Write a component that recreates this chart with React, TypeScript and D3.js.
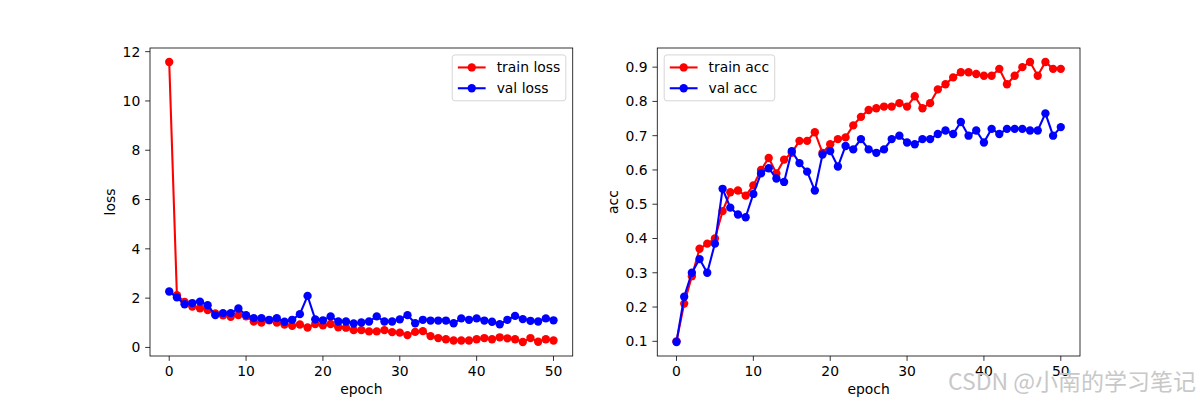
import React from 'react';
import * as d3 from 'd3';

// values
const epochs: number[] = d3.range(0, 51);

const trainLoss: number[] = [
  11.58, 2.12, 1.85, 1.66, 1.59, 1.52, 1.38, 1.3, 1.24, 1.31,
  1.26, 1.05, 1.01, 1.1, 1.01, 0.93, 0.88, 0.93, 0.81, 0.95,
  0.9, 0.95, 0.82, 0.8, 0.7, 0.7, 0.65, 0.65, 0.7, 0.62,
  0.6, 0.5, 0.63, 0.66, 0.46, 0.38, 0.33, 0.28, 0.28, 0.28,
  0.33, 0.38, 0.33, 0.41, 0.37, 0.33, 0.22, 0.38, 0.23, 0.33,
  0.28,
];
const valLoss: number[] = [
  2.27, 2.03, 1.75, 1.8, 1.86, 1.71, 1.31, 1.39, 1.39, 1.58,
  1.31, 1.19, 1.19, 1.12, 1.19, 1.04, 1.12, 1.35, 2.09, 1.14,
  1.1, 1.26, 1.05, 1.05, 0.97, 1.01, 1.05, 1.26, 1.05, 1.05,
  1.14, 1.31, 0.98, 1.12, 1.09, 1.09, 1.09, 0.98, 1.18, 1.12,
  1.18, 1.09, 1.04, 0.94, 1.12, 1.28, 1.15, 1.08, 1.05, 1.18,
  1.1,
];
const trainAcc: number[] = [
  0.1, 0.21, 0.29, 0.37, 0.385, 0.4, 0.48, 0.535, 0.54, 0.525,
  0.555, 0.6, 0.635, 0.59, 0.63, 0.65, 0.685, 0.685, 0.71, 0.65,
  0.675, 0.69, 0.695, 0.73, 0.755, 0.775, 0.78, 0.785, 0.785, 0.795,
  0.785, 0.815, 0.78, 0.795, 0.835, 0.85, 0.87, 0.885, 0.885, 0.88,
  0.875, 0.875, 0.895, 0.85, 0.875, 0.9, 0.915, 0.875, 0.915, 0.895,
  0.895,
];
const valAcc: number[] = [
  0.098, 0.23, 0.3, 0.34, 0.3, 0.385, 0.545, 0.49, 0.47, 0.462,
  0.53, 0.59, 0.605, 0.575, 0.565, 0.655, 0.62, 0.595, 0.54, 0.645,
  0.655, 0.61, 0.67, 0.66, 0.69, 0.66, 0.65, 0.66, 0.69, 0.7,
  0.68, 0.675, 0.69, 0.69, 0.705, 0.715, 0.705, 0.74, 0.7, 0.715,
  0.68, 0.72, 0.705, 0.72, 0.72, 0.72, 0.715, 0.715, 0.765, 0.7,
  0.725,
];

const xTicks: number[] = [0, 10, 20, 30, 40, 50];
const lossTicks: number[] = [0, 2, 4, 6, 8, 10, 12];
const accTicks: number[] = [0.1, 0.2, 0.3, 0.4, 0.5, 0.6, 0.7, 0.8, 0.9];

const width = 1200;
const height = 400;
const top = 48;
const bottom = 356;
const axW = 930 / 2.2;
const font = 'DejaVu Sans, sans-serif';
const fs = 13.9;
const tick = 4.86;

// matplotlib-like autoscale with 5% margin
function padded(vals: number[]): [number, number] {
  const [lo, hi] = d3.extent(vals) as [number, number];
  const m = (hi - lo) * 0.05;
  return [lo - m, hi + m];
}

let ctx: CanvasRenderingContext2D | null = null;
function textWidth(s: string): number {
  if (!ctx) ctx = document.createElement('canvas').getContext('2d');
  if (!ctx) return s.length * 6.4;
  ctx.font = `${fs}px "DejaVu Sans"`;
  return ctx.measureText(s).width;
}

type Series = { name: string; values: number[]; color: string };

function Panel({ left, series, yTicks, yLabel, fmt, legendRight }: {
  left: number; series: Series[]; yTicks: number[]; yLabel: string;
  fmt: (d: number) => string; legendRight: boolean;
}) {
  const right = left + axW;
  const x = d3.scaleLinear().domain(padded(epochs)).range([left, right]);
  const all = series.flatMap(s => s.values);
  const y = d3.scaleLinear().domain(padded(all)).range([bottom, top]);
  const line = d3.line<number>().x((_, i) => x(epochs[i])).y(d => y(d));

  // legend
  const pad = 5.6;
  const handle = 27.8;
  const textPad = 11;
  const rowH = fs;
  const gap = 6.9;
  const labelW = d3.max(series, s => textWidth(s.name)) || 60;
  const lw = pad * 2 + handle + textPad + labelW;
  const lh = pad * 2 + series.length * rowH + (series.length - 1) * gap;
  const lx = legendRight ? right - 6.9 - lw : left + 6.9;
  const ly = top + 6.9;

  return (
    <g>
      {series.map(s => (
        <g key={s.name}>
          <path d={line(s.values) || ''} fill='none' stroke={s.color} strokeWidth={2.08} />
          {s.values.map((v, i) => (
            <circle key={i} cx={x(epochs[i])} cy={y(v)} r={4.17} fill={s.color} />
          ))}
        </g>
      ))}

      {/* Axis frame */}
      <rect x={left} y={top} width={axW} height={bottom - top} fill='none' stroke='#000' strokeWidth={0.8} />

      {/* x ticks */}
      {xTicks.map(t => (
        <g key={t}>
          <line x1={x(t)} x2={x(t)} y1={bottom} y2={bottom + tick} stroke='#000' strokeWidth={0.8} />
          <text x={x(t)} y={bottom + tick + 4.86} dominantBaseline='hanging' textAnchor='middle'
            fontFamily={font} fontSize={fs}>{t}</text>
        </g>
      ))}
      {/* y ticks */}
      {yTicks.map(t => (
        <g key={t}>
          <line x1={left - tick} x2={left} y1={y(t)} y2={y(t)} stroke='#000' strokeWidth={0.8} />
          <text x={left - tick - 4.86} y={y(t)} dominantBaseline='central' textAnchor='end'
            fontFamily={font} fontSize={fs}>{fmt(t)}</text>
        </g>
      ))}

      <text x={(left + right) / 2} y={384} dominantBaseline='hanging' textAnchor='middle'
        fontFamily={font} fontSize={fs}>epoch</text>
      <text transform={`translate(${left - (yLabel === 'loss' ? 40 : 44)}, ${(top + bottom) / 2}) rotate(-90)`}
        dominantBaseline='central' textAnchor='middle' fontFamily={font} fontSize={fs}>{yLabel}</text>

      {/* Legend */}
      <rect x={lx} y={ly} width={lw} height={lh} rx={2.8} fill='#fff' fillOpacity={0.8}
        stroke='#cccccc' strokeWidth={0.8} />
      {series.map((s, i) => {
        const cy = ly + pad + rowH / 2 + i * (rowH + gap);
        return (
          <g key={s.name}>
            <line x1={lx + pad} x2={lx + pad + handle} y1={cy} y2={cy} stroke={s.color} strokeWidth={2.08} />
            <circle cx={lx + pad + handle / 2} cy={cy} r={4.17} fill={s.color} />
            <text x={lx + pad + handle + textPad} y={cy} dominantBaseline='central'
              fontFamily={font} fontSize={fs}>{s.name}</text>
          </g>
        );
      })}
    </g>
  );
}

export default function App() {
  return (
    <svg width={width} height={height} style={{ display: 'block', position: 'absolute', left: 0, top: 0 }}>
      <rect width={width} height={height} fill='#fff' />
      <Panel left={150} yTicks={lossTicks} yLabel='loss' fmt={d => `${d}`} legendRight={true}
        series={[
          { name: 'train loss', values: trainLoss, color: 'red' },
          { name: 'val loss', values: valLoss, color: 'blue' },
        ]} />
      <Panel left={150 + axW * 1.2} yTicks={accTicks} yLabel='acc' fmt={d => d.toFixed(1)} legendRight={false}
        series={[
          { name: 'train acc', values: trainAcc, color: 'red' },
          { name: 'val acc', values: valAcc, color: 'blue' },
        ]} />
      <text x={1196} y={390} textAnchor='end' fontFamily='Noto Sans CJK SC, sans-serif' fontSize={23}
        fill='#c8c8c8'>CSDN @小南的学习笔记</text>
    </svg>
  );
}
